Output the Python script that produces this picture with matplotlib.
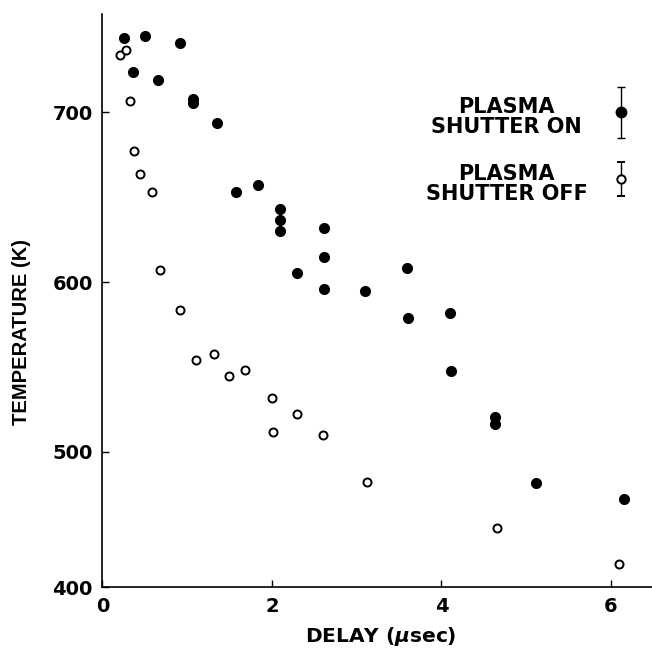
import numpy as np
import matplotlib
import matplotlib.pyplot as plt

matplotlib.use("Agg")

# data
on_delay = [0.25, 0.50, 0.92, 0.36, 0.66, 1.07, 1.07, 1.35, 1.57, 1.84, 2.09, 2.09, 2.09,
            2.30, 2.61, 2.61, 2.61, 3.10, 3.59, 3.60, 4.10, 4.11, 4.63, 4.63, 5.12, 6.15]
on_temp = [744, 745, 741, 724, 719, 708, 705.5, 694, 653, 657, 643, 636.5, 630,
           605.5, 632, 615, 596, 595, 608.5, 579, 582, 547.5, 520.5, 516.5, 477, 465]

off_delay = [0.21, 0.28, 0.33, 0.37, 0.44, 0.58, 0.68, 0.92, 1.10, 1.32, 1.49, 1.68,
             2.00, 2.01, 2.30, 2.60, 3.12, 4.65, 6.10]
off_temp = [734, 737, 707, 677.5, 664, 653, 607, 583.5, 554, 557.5, 544.5, 548.5,
            532, 511.5, 522.5, 510, 478, 444, 417]

# representative error bars shown next to the key
key_delay = [6.12, 6.12]
key_temp = [700, 660.5]
key_err = [15, 10]
key_text = ["PLASMA\nSHUTTER ON", "PLASMA\nSHUTTER OFF"]

xticks = [0, 2, 4, 6]
yticks = [400, 500, 600, 700]

plt.rcParams["font.family"] = ["DejaVu Sans"]
plt.rcParams["font.weight"] = "bold"

# the original axis is compressed below 500 K
K = 135 / 169.5


def fwd(t):
    t = np.asarray(t, dtype=float)
    return np.where(t < 500, 500 - (500 - t) * K, t)


def inv(u):
    u = np.asarray(u, dtype=float)
    return np.where(u < 500, 500 - (500 - u) / K, u)


fig = plt.figure(figsize=(6.52, 6.48), dpi=100)
ax = fig.add_axes([0.1572, 0.0941, 0.8423, 0.8843])
ax.set_yscale("function", functions=(fwd, inv))

ax.plot(on_delay, on_temp, "o", color="black", markersize=7, clip_on=False)
ax.plot(off_delay, off_temp, "o", markerfacecolor="white", markeredgecolor="black",
        markersize=5.8, markeredgewidth=1.4, clip_on=False)

# key
ax.errorbar(key_delay[0], key_temp[0], yerr=key_err[0], fmt="o", color="black",
            markersize=7.5, capsize=3, elinewidth=1, capthick=1)
ax.errorbar(key_delay[1], key_temp[1], yerr=key_err[1], fmt="o", color="black",
            markerfacecolor="white", markersize=6, markeredgewidth=1.4,
            capsize=3, elinewidth=1, capthick=1)
ax.text(4.77, 697.5, key_text[0], ha="center", va="center", fontsize=15,
        fontweight="bold", linespacing=1.0)
ax.text(4.77, 657.7, key_text[1], ha="center", va="center", fontsize=15,
        fontweight="bold", linespacing=1.0)

ax.set_xlim(0, 6.48)
ax.set_ylim(400, 758)
ax.set_xticks(xticks)
ax.set_yticks(yticks)
ax.set_xticklabels([str(v) for v in xticks])
ax.set_yticklabels([str(v) for v in yticks])

ax.spines["top"].set_visible(False)
ax.spines["right"].set_visible(False)
ax.spines["left"].set_linewidth(1.2)
ax.spines["bottom"].set_linewidth(1.2)
ax.tick_params(direction="in", length=5, width=1, labelsize=14)
ax.tick_params(axis="x", pad=7)
ax.tick_params(axis="y", pad=7)

ax.set_xlabel("DELAY ($\\mu$sec)", fontsize=14.5, fontweight="bold")
ax.set_ylabel("TEMPERATURE (K)", fontsize=14.5, fontweight="bold",
              family="Liberation Sans")
ax.xaxis.set_label_coords(0.507, -0.066)
ax.xaxis.label.set_va("top")
ax.yaxis.set_label_coords(-0.130, 0.445)

plt.savefig("out.png", dpi=100)
plt.close()
